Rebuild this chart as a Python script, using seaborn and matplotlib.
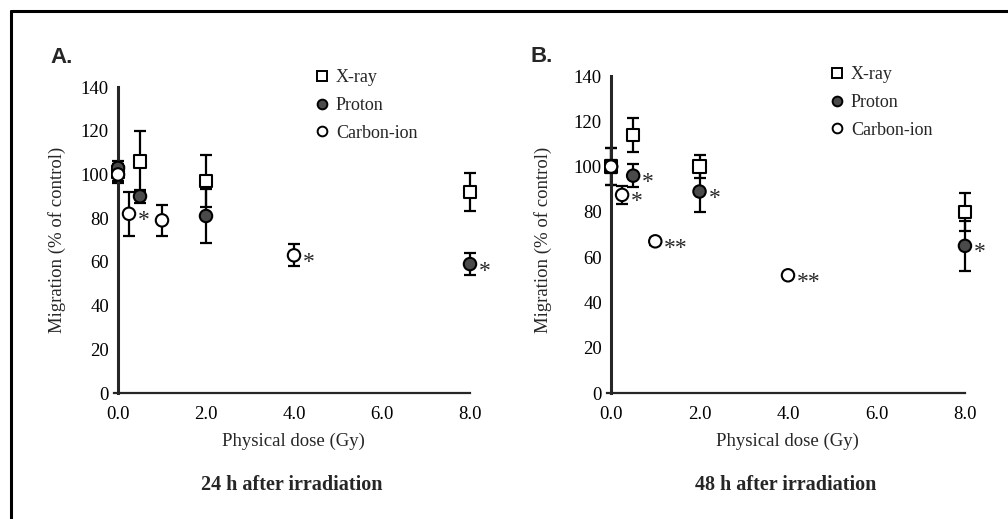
import pandas as pd
import seaborn as sns
import matplotlib.pyplot as plt
from matplotlib.lines import Line2D

# ---- 24 h after irradiation (panel A) ----
dose_a_xray = [0.0, 0.5, 2.0, 8.0]
mig_a_xray = [101, 106, 97, 92]
err_a_xray = [4, 14, 12, 8.5]
sig_a_xray = ["", "", "", ""]

dose_a_proton = [0.0, 0.5, 2.0, 8.0]
mig_a_proton = [103, 90, 81, 59]
err_a_proton = [3, 3, 12.5, 5]
sig_a_proton = ["", "", "", "*"]

dose_a_carbon = [0.0, 0.25, 1.0, 4.0]
mig_a_carbon = [100, 82, 79, 63]
err_a_carbon = [4, 10, 7, 5]
sig_a_carbon = ["", "*", "", "*"]

# ---- 48 h after irradiation (panel B) ----
dose_b_xray = [0.0, 0.5, 2.0, 8.0]
mig_b_xray = [100, 114, 100, 80]
err_b_xray = [8, 7.5, 5, 8.5]
sig_b_xray = ["", "", "", ""]

dose_b_proton = [0.0, 0.5, 2.0, 8.0]
mig_b_proton = [100, 96, 89, 65]
err_b_proton = [8, 5, 9, 11]
sig_b_proton = ["", "*", "*", "*"]

dose_b_carbon = [0.0, 0.25, 1.0, 4.0]
mig_b_carbon = [100, 87.5, 67, 52]
err_b_carbon = [3, 4, 1.5, 1]
sig_b_carbon = ["", "*", "**", "**"]

radiations = ["X-ray", "Proton", "Carbon-ion"]
x_ticks = [0, 2, 4, 6, 8]
x_ticklabels = ["0.0", "2.0", "4.0", "6.0", "8.0"]
y_ticks = [0, 20, 40, 60, 80, 100, 120, 140]


def frame(panel, rad, dose, mig, err, sig):
    return pd.DataFrame({"panel": panel, "radiation": rad, "dose": dose,
                         "migration": mig, "err": err, "sig": sig})


df = pd.concat([
    frame("A", "X-ray", dose_a_xray, mig_a_xray, err_a_xray, sig_a_xray),
    frame("A", "Proton", dose_a_proton, mig_a_proton, err_a_proton, sig_a_proton),
    frame("A", "Carbon-ion", dose_a_carbon, mig_a_carbon, err_a_carbon, sig_a_carbon),
    frame("B", "X-ray", dose_b_xray, mig_b_xray, err_b_xray, sig_b_xray),
    frame("B", "Proton", dose_b_proton, mig_b_proton, err_b_proton, sig_b_proton),
    frame("B", "Carbon-ion", dose_b_carbon, mig_b_carbon, err_b_carbon, sig_b_carbon),
], ignore_index=True)

sns.set_style("white")
plt.rcParams["font.family"] = ["Liberation Serif", "DejaVu Serif"]

W, H = 1008, 519
fig = plt.figure(figsize=(W / 100, H / 100), dpi=100)

palette = {"X-ray": "white", "Proton": "#4a4a4a", "Carbon-ion": "white"}
markers = {"X-ray": "s", "Proton": "o", "Carbon-ion": "o"}

# axes rectangles in pixels: left, top, right, bottom
boxes = {"A": (111.4, 76.1, 496.4, 395.2), "B": (604.4, 64.7, 991.5, 395.3)}
legend_pos = {"A": (316, 69), "B": (831, 66)}
ylabel_x = {"A": 66, "B": 552}
letters = {"A": ("A.", 50, 63), "B": ("B.", 531, 62)}
titles = {"A": ("24 h after irradiation", 292), "B": ("48 h after irradiation", 786)}

for panel in ["A", "B"]:
    l, t, r, b = boxes[panel]
    ax = fig.add_axes([l / W, 1 - b / H, (r - l) / W, (b - t) / H])
    sub = df[df["panel"] == panel]

    ax.errorbar(sub["dose"], sub["migration"], yerr=sub["err"], fmt="none",
                ecolor="black", elinewidth=1.6, capsize=4.2, capthick=1.6, zorder=2)
    sns.scatterplot(data=sub, x="dose", y="migration", hue="radiation",
                    style="radiation", palette=palette, markers=markers,
                    s=80, edgecolor="black", linewidth=1.5, legend=False,
                    zorder=3, ax=ax)

    # significance marks
    for _, row in sub.iterrows():
        if row["sig"]:
            ax.annotate(row["sig"], (row["dose"], row["migration"]),
                        xytext=(6.5, -5), textcoords="offset points",
                        ha="left", va="center", fontsize=17)

    ax.set_xlim(-0.15, 8.6)
    ax.set_ylim(-1, 145)
    ax.set_xticks(x_ticks)
    ax.set_xticklabels(x_ticklabels)
    ax.set_yticks(y_ticks)
    ax.tick_params(axis="both", direction="inout", length=7, width=1.3,
                   labelsize=13.5, colors="black")
    ax.tick_params(axis="x", pad=6)
    ax.tick_params(axis="y", pad=3)
    for side in ["top", "right"]:
        ax.spines[side].set_visible(False)
    ax.spines["left"].set_linewidth(2.2)
    ax.spines["bottom"].set_linewidth(1.6)
    ax.spines["left"].set_bounds(0, 140)
    ax.spines["bottom"].set_bounds(-0.1, 8.0)
    ax.spines["bottom"].set_position(("data", 0))
    ax.spines["left"].set_position(("data", 0))

    ax.set_xlabel("Physical dose (Gy)", fontsize=13.5)
    ax.set_ylabel("Migration (% of control)", fontsize=13.5)
    ax.xaxis.set_label_coords(0.474, (b - 433) / (b - t))
    ax.yaxis.set_label_coords((ylabel_x[panel] - l) / (r - l), (b - 240) / (b - t))

    handles = [Line2D([], [], ls="", marker=markers[k], markerfacecolor=palette[k],
                      markeredgecolor="black", markersize=7, markeredgewidth=1.4)
               for k in radiations]
    lx, ly = legend_pos[panel]
    ax.legend(handles, radiations, loc="upper left", bbox_to_anchor=(lx / W, 1 - ly / H),
              bbox_transform=fig.transFigure, frameon=False, fontsize=13,
              handlelength=0.7, handletextpad=0.4, labelspacing=0.6,
              borderpad=0, borderaxespad=0)

    txt, tx, ty = letters[panel]
    fig.text(tx / W, 1 - ty / H, txt, family="Liberation Sans", weight="bold",
             fontsize=16, ha="left", va="baseline")
    ttl, cx = titles[panel]
    fig.text(cx / W, 1 - 485 / H, ttl, weight="bold", fontsize=14.5,
             ha="center", va="center")

# scanned page frame (left and top edges)
fig.add_artist(Line2D([11 / W, 11 / W], [0, 1 - 11 / H], color="black", lw=2.2))
fig.add_artist(Line2D([11 / W, 1], [1 - 11 / H, 1 - 11 / H], color="black", lw=2.2))

fig.savefig("out.png", dpi=100)
